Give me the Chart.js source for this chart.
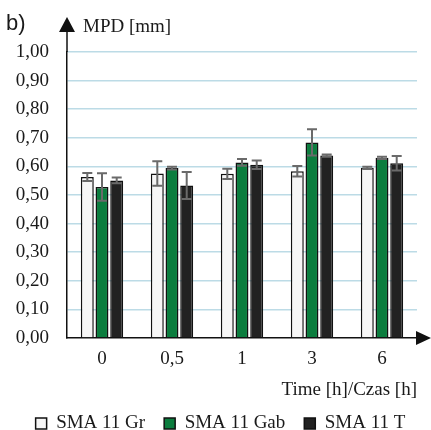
<!DOCTYPE html>
<html>
<head>
<meta charset="utf-8">
<script src="https://cdn.jsdelivr.net/npm/chart.js@4"></script>
<style>
  html, body { margin: 0; padding: 0; background: #ffffff; }
  #wrap { width: 431px; height: 430px; }
</style>
</head>
<body>
<div id="wrap"><canvas id="c" width="431" height="430"></canvas></div>
<script>
const categories = ['0', '0,5', '1', '3', '6'];
const seriesNames = ['SMA 11 Gr', 'SMA 11 Gab', 'SMA 11 T'];
const valuesGr  = [0.563, 0.575, 0.574, 0.583, 0.595];
const valuesGab = [0.528, 0.594, 0.614, 0.684, 0.630];
const valuesT   = [0.551, 0.533, 0.606, 0.638, 0.611];
const errGr  = [0.014, 0.043, 0.018, 0.018, 0.004];
const errGab = [0.048, 0.005, 0.012, 0.046, 0.004];
const errT   = [0.010, 0.047, 0.015, 0.004, 0.025];
const yTicks = [0, 0.1, 0.2, 0.3, 0.4, 0.5, 0.6, 0.7, 0.8, 0.9, 1.0];

const SERIF = '"Liberation Serif", "Times New Roman", serif';
const colors = ['#f6f6f6', '#0b7d3e', '#222222'];

const errorBars = {
  id: 'errorBars',
  afterDatasetsDraw(chart) {
    const ctx = chart.ctx;
    const y = chart.scales.y;
    const errs = [errGr, errGab, errT];
    ctx.save();
    ctx.strokeStyle = '#6a6a6a';
    ctx.lineWidth = 2;
    chart.data.datasets.forEach((ds, i) => {
      const meta = chart.getDatasetMeta(i);
      meta.data.forEach((bar, j) => {
        const v = ds.data[j], e = errs[i][j];
        const yt = y.getPixelForValue(v + e);
        const yb = y.getPixelForValue(v - e);
        const x = bar.x;
        ctx.beginPath();
        ctx.moveTo(x, yt); ctx.lineTo(x, yb);
        ctx.moveTo(x - 5, yt); ctx.lineTo(x + 5, yt);
        ctx.moveTo(x - 5, yb); ctx.lineTo(x + 5, yb);
        ctx.stroke();
      });
    });
    ctx.restore();
  }
};

const legendShift = {
  id: 'legendShift',
  afterLayout(chart) {
    if (chart.legend) {
      chart.legend.left += 12;
      chart.legend.right += 12;
    }
  }
};

const decorations = {
  id: 'decorations',
  afterDraw(chart) {
    const ctx = chart.ctx;
    const a = chart.chartArea;
    ctx.save();
    ctx.fillStyle = '#111';
    ctx.strokeStyle = '#111';
    ctx.lineWidth = 1.5;
    // y axis extension + arrow
    ctx.beginPath();
    ctx.moveTo(a.left, a.top);
    ctx.lineTo(a.left, 30);
    ctx.stroke();
    ctx.beginPath();
    ctx.moveTo(a.left, 17);
    ctx.lineTo(a.left - 8, 32);
    ctx.lineTo(a.left + 8, 32);
    ctx.closePath();
    ctx.fill();
    // x axis arrow
    ctx.beginPath();
    ctx.moveTo(431, a.bottom);
    ctx.lineTo(a.right - 1, a.bottom - 7);
    ctx.lineTo(a.right - 1, a.bottom + 7);
    ctx.closePath();
    ctx.fill();
    // texts
    ctx.fillStyle = '#1a1a1a';
    ctx.textBaseline = 'alphabetic';
    ctx.textAlign = 'left';
    ctx.font = '22px "Liberation Sans", Arial, sans-serif';
    ctx.fillText('b)', 6, 30);
    ctx.font = '19px ' + SERIF;
    ctx.fillText('MPD [mm]', 83, 32);
    ctx.restore();
  }
};

new Chart(document.getElementById('c'), {
  type: 'bar',
  data: {
    labels: categories,
    datasets: [
      { label: seriesNames[0], data: valuesGr,  backgroundColor: colors[0], borderColor: '#111', borderWidth: 1.5 },
      { label: seriesNames[1], data: valuesGab, backgroundColor: colors[1], borderColor: '#111', borderWidth: 1.5 },
      { label: seriesNames[2], data: valuesT,   backgroundColor: colors[2], borderColor: '#111', borderWidth: 1.5 }
    ]
  },
  options: {
    responsive: false,
    animation: false,
    devicePixelRatio: 1,
    layout: { padding: { top: 52, left: 0, right: 14, bottom: -13 } },
    categoryPercentage: 0.63,
    barPercentage: 0.88,
    plugins: {
      tooltip: { enabled: false },
      legend: {
        position: 'bottom',
        labels: {
          font: { family: SERIF, size: 19 },
          color: '#1a1a1a',
          boxWidth: 11,
          boxHeight: 11,
          padding: 19
        }
      }
    },
    scales: {
      x: {
        afterFit(s) { s.height = 57; },
        grid: { display: false, drawTicks: false },
        border: { display: true, color: '#111', width: 1.5 },
        ticks: { font: { family: SERIF, size: 19 }, color: '#1a1a1a', padding: 10 },
        title: {
          display: true,
          text: 'Time [h]/Czas [h]',
          align: 'end',
          color: '#1a1a1a',
          font: { family: SERIF, size: 19, lineHeight: 0.5 },
          padding: { top: 0, bottom: 0 }
        }
      },
      y: {
        min: 0,
        max: 1,
        afterFit(s) { s.width = 67; },
        afterBuildTicks(s) { s.ticks = yTicks.map(v => ({ value: v })); },
        grid: {
          drawTicks: false,
          color: ctx => (ctx.tick && ctx.tick.value === 0) ? 'rgba(0,0,0,0)' : '#bcdbe6',
          lineWidth: 1.5
        },
        border: { display: true, color: '#111', width: 1.5 },
        ticks: {
          font: { family: SERIF, size: 19 },
          color: '#1a1a1a',
          padding: 18,
          callback: v => v.toFixed(2).replace('.', ',')
        }
      }
    }
  },
  plugins: [errorBars, legendShift, decorations]
});
</script>
</body>
</html>
